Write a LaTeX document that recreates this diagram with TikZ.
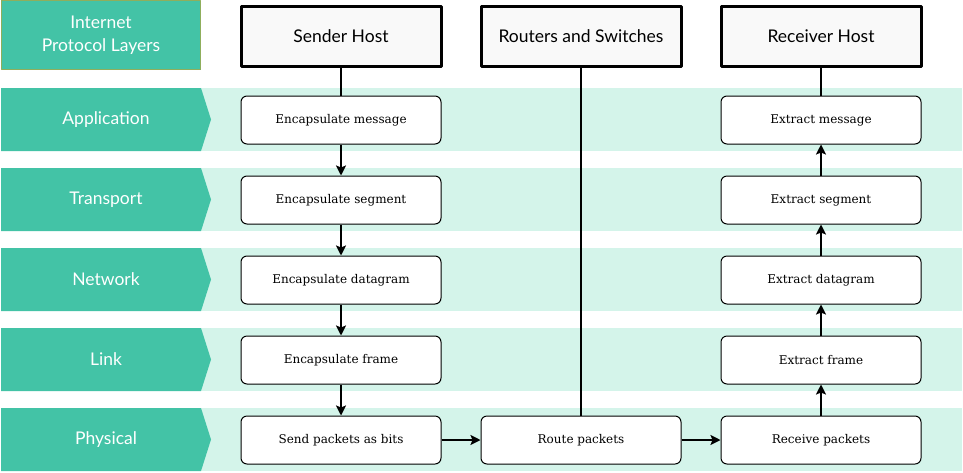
\documentclass[tikz,border=0pt]{standalone}
\usepackage{fontspec}
\setmainfont{DejaVu Serif}
\newfontfamily\headfont{Lato}
\usetikzlibrary{arrows.meta}
\definecolor{laneteal}{HTML}{43C3A6}
\definecolor{bandgreen}{HTML}{D4F4EA}
\definecolor{titleedge}{HTML}{8FAE5C}
\definecolor{headfill}{HTML}{F9F9F9}
\tikzset{
  stepbox/.style={draw,rounded corners=6pt,fill=white,line width=1pt,
    minimum width=200pt,minimum height=48pt,font=\fontsize{12}{14}\selectfont},
  headbox/.style={draw,fill=headfill,line width=3pt,
    minimum width=200pt,minimum height=60pt,font=\headfont\fontsize{17.5}{20}\selectfont},
  lanetext/.style={text=white,font=\headfont\fontsize{17.5}{20}\selectfont},
  flow/.style={line width=2.5pt,-{Stealth[length=10pt,width=10pt,inset=2pt]}},
  link/.style={line width=2.5pt}
}
\begin{document}
\begin{tikzpicture}[x=1pt,y=-1pt,line join=round]
\useasboundingbox (0,0) rectangle (963,472);

% layer bands
\foreach \y/\name in {88/Application,168/Transport,248/Network,328/Link,408/Physical}{
  \fill[bandgreen] (1,\y) rectangle (962,\y+63);
  \fill[laneteal] (1,\y) -- (201,\y) -- (211,\y+31.5) -- (201,\y+63) -- (1,\y+63) -- cycle;
  \node[lanetext] (lbl-\name) at (106,\y+31.5) {\name};
}

% title
\node[draw=titleedge,fill=laneteal,line width=1.5pt,minimum width=199pt,minimum height=69pt,
  align=center,text=white,font=\headfont\fontsize{17.5}{23}\selectfont] (title) at (101,35)
  {Internet\\Protocol Layers};

% hosts
\node[headbox] (sender) at (341,36) {Sender Host};
\node[headbox] (routers) at (581,36) {Routers and Switches};
\node[headbox] (receiver) at (821,36) {Receiver Host};

% sender side
\node[stepbox] (encmsg) at (341,120) {Encapsulate message};
\node[stepbox] (encseg) at (341,200) {Encapsulate segment};
\node[stepbox] (encdat) at (341,280) {Encapsulate datagram};
\node[stepbox] (encfrm) at (341,360) {Encapsulate frame};
\node[stepbox] (sendbits) at (341,440) {Send packets as bits};

% routers
\node[stepbox] (route) at (581,440) {Route packets};

% receiver side
\node[stepbox] (extmsg) at (821,120) {Extract message};
\node[stepbox] (extseg) at (821,200) {Extract segment};
\node[stepbox] (extdat) at (821,280) {Extract datagram};
\node[stepbox] (extfrm) at (821,360) {Extract frame};
\node[stepbox] (recv) at (821,440) {Receive packets};

\draw[link] (sender) -- (encmsg);
\draw[link] (routers) -- (route);
\draw[link] (receiver) -- (extmsg);

\draw[flow] (encmsg) -- (encseg);
\draw[flow] (encseg) -- (encdat);
\draw[flow] (encdat) -- (encfrm);
\draw[flow] (encfrm) -- (sendbits);
\draw[flow] (sendbits) -- (route);
\draw[flow] (route) -- (recv);
\draw[flow] (recv) -- (extfrm);
\draw[flow] (extfrm) -- (extdat);
\draw[flow] (extdat) -- (extseg);
\draw[flow] (extseg) -- (extmsg);
\end{tikzpicture}
\end{document}
